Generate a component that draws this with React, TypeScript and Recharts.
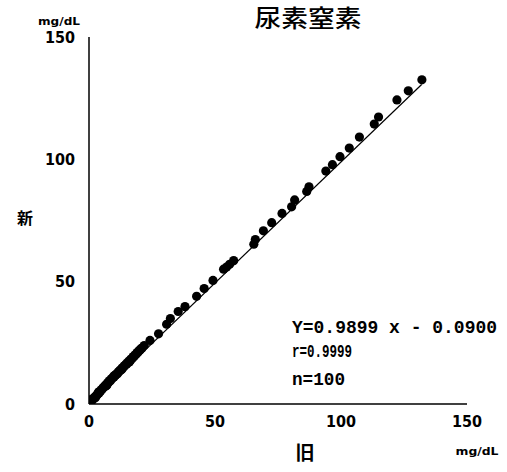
import React from 'react';
import { ScatterChart, Scatter, XAxis, YAxis, Customized } from 'recharts';

const chartTitle = '尿素窒素';
const xAxisName = '旧';
const yAxisName = '新';
const unitLabel = 'mg/dL';
const statLines = ['Y=0.9899 x - 0.0900', 'r=0.9999', 'n=100'];
const axisTicks = [0, 50, 100, 150];
const fitSlope = 0.9899;
const fitIntercept = -0.09;
const fitRange = [0, 132];

const oldValues = [
  132.1, 126.7, 122.2, 114.9, 113.2, 107.3, 103.3, 99.6, 96.6, 94.0,
  87.3, 86.4, 81.6, 80.4, 76.6, 72.5, 69.2, 66.0, 65.4, 57.4,
  55.8, 54.6, 53.4, 49.2, 45.7, 42.7, 38.1, 35.4, 32.3, 30.8,
  27.6, 24.2, 21.9, 0.5, 0.9, 1.3, 1.6, 2.0, 2.3, 2.7,
  3.0, 3.3, 3.6, 4.0, 4.3, 4.6, 5.0, 5.2, 5.6, 5.9,
  6.2, 6.5, 6.9, 7.2, 7.5, 7.9, 8.2, 8.5, 8.9, 9.2,
  9.6, 9.9, 10.3, 10.6, 11.0, 11.3, 11.7, 12.0, 12.4, 12.8,
  13.1, 13.5, 13.9, 14.2, 14.6, 15.0, 15.3, 15.7, 16.1, 16.5,
  16.8, 17.2, 17.6, 17.9, 18.3, 18.7, 19.1, 19.4, 19.8, 20.2,
  20.6, 21.0, 0.3, 1.1, 2.5, 3.8, 7.0, 10.0, 13.0, 16.0,
];
const newValues = [
  132.5, 128.0, 124.3, 117.3, 114.4, 109.1, 104.6, 101.1, 97.8, 95.2,
  88.8, 86.9, 83.4, 80.6, 77.9, 74.1, 70.8, 67.2, 65.3, 58.6,
  57.1, 56.0, 55.1, 50.5, 47.2, 44.0, 39.8, 37.8, 34.9, 32.6,
  28.7, 26.0, 23.9, 0.8, 1.2, 1.5, 2.2, 2.4, 2.9, 3.1,
  3.6, 3.8, 4.4, 4.5, 5.1, 5.3, 5.9, 6.0, 6.6, 6.8,
  7.4, 7.3, 8.1, 8.0, 8.8, 9.0, 9.6, 9.5, 10.3, 10.4,
  11.0, 11.0, 11.7, 11.9, 12.4, 12.4, 13.2, 13.3, 13.9, 14.0,
  14.7, 14.8, 15.5, 15.6, 16.2, 16.3, 17.0, 17.1, 17.8, 17.9,
  18.5, 18.7, 19.4, 19.4, 20.1, 20.3, 21.0, 21.1, 21.8, 22.0,
  22.6, 22.8, 0.4, 1.9, 2.6, 4.9, 7.6, 11.5, 14.2, 17.2,
];

const points = oldValues.map((x, i) => ({ x, y: newValues[i] }));
const fitLine = fitRange.map((x) => ({ x, y: Math.max(0, fitSlope * x + fitIntercept) }));

const narrow = "'Liberation Sans Narrow', 'DejaVu Sans Condensed', sans-serif";
const mono = "'Liberation Mono', 'DejaVu Sans Mono', monospace";
const cjk = "'Noto Sans CJK JP', sans-serif";

const Dot = (props: any) => <circle cx={props.cx} cy={props.cy} r={4.6} fill="#000" />;
const NoDot = () => null;

const Texts = () => (
  <g>
    <text x={308} y={27} textAnchor="middle" fontFamily={cjk} fontSize={24} fontWeight={500} fill="#000" textLength={107} lengthAdjust="spacingAndGlyphs">{chartTitle}</text>
    <text x={59} y={25} textAnchor="middle" fontFamily={narrow} fontSize={11} fontWeight={700} fill="#000" textLength={42} lengthAdjust="spacingAndGlyphs">{unitLabel}</text>
    <text x={477} y={455} textAnchor="middle" fontFamily={narrow} fontSize={11} fontWeight={700} fill="#000" textLength={43} lengthAdjust="spacingAndGlyphs">{unitLabel}</text>
    <text x={25} y={224} textAnchor="middle" fontFamily={cjk} fontSize={16} fontWeight={700} fill="#000">{yAxisName}</text>
    <text x={305} y={460} textAnchor="middle" fontFamily={cjk} fontSize={19} fontWeight={700} fill="#000">{xAxisName}</text>
    <text x={292} y={333} fontFamily={mono} fontSize={18} fontWeight={700} fill="#000" textLength={205} lengthAdjust="spacingAndGlyphs">{statLines[0]}</text>
    <text x={292} y={357} fontFamily={mono} fontSize={18} fontWeight={700} fill="#000" textLength={60} lengthAdjust="spacingAndGlyphs">{statLines[1]}</text>
    <text x={292} y={385} fontFamily={mono} fontSize={18} fontWeight={700} fill="#000" textLength={53} lengthAdjust="spacingAndGlyphs">{statLines[2]}</text>
  </g>
);

export default function App() {
  return (
    <div style={{ position: 'absolute', left: 0, top: 0, background: '#fff' }}>
      <ScatterChart width={507} height={472} margin={{ top: 37, right: 40, bottom: 38, left: 59 }}>
        <XAxis
          type="number"
          dataKey="x"
          domain={[0, 150]}
          ticks={axisTicks}
          tickSize={0}
          tickMargin={12}
          height={30}
          axisLine={{ stroke: '#000', strokeWidth: 1.5 }}
          tickLine={false}
          tick={{ fill: '#000', fontFamily: narrow, fontSize: 16, fontWeight: 700 }}
          allowDataOverflow
        />
        <YAxis
          type="number"
          dataKey="y"
          domain={[0, 150]}
          ticks={axisTicks}
          tickSize={0}
          tickMargin={14}
          width={30}
          axisLine={{ stroke: '#000', strokeWidth: 1.5 }}
          tickLine={false}
          tick={{ fill: '#000', fontFamily: narrow, fontSize: 16, fontWeight: 700 }}
          allowDataOverflow
        />
        <Scatter data={fitLine} line={{ stroke: '#000', strokeWidth: 1.2 }} shape={NoDot} isAnimationActive={false} />
        <Scatter data={points} shape={Dot} isAnimationActive={false} />
        <Customized component={Texts} />
      </ScatterChart>
    </div>
  );
}
